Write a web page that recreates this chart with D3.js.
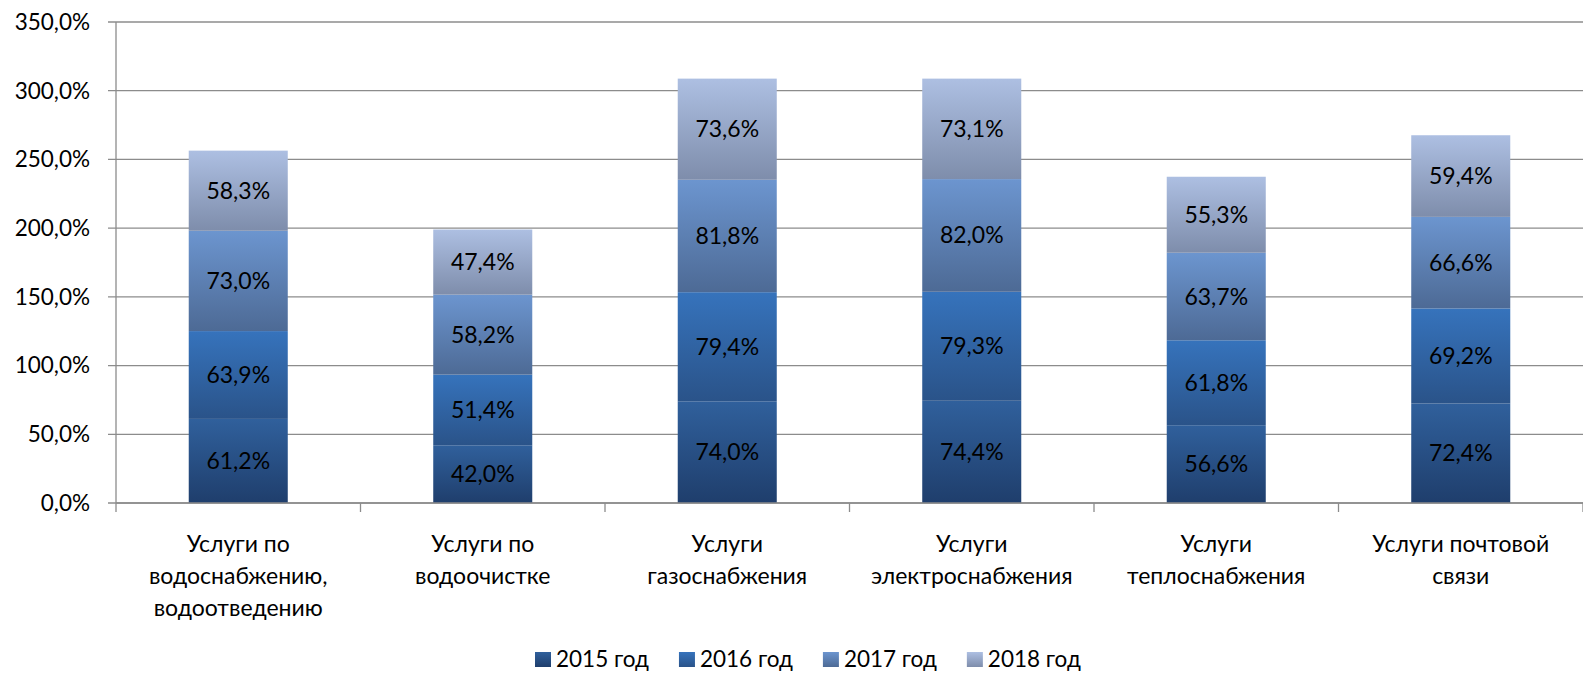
<!DOCTYPE html>
<html>
<head>
<meta charset="utf-8">
<script src="https://cdn.jsdelivr.net/npm/d3@7"></script>
<style>
  body { margin: 0; background: #fff; }
  text { font-family: Lato, "Open Sans", sans-serif; fill: #000; }
</style>
</head>
<body>
<div id="chart"></div>
<script>
// Chart data
var categories = [
    ["Услуги по", "водоснабжению,", "водоотведению"],
    ["Услуги по", "водоочистке"],
    ["Услуги", "газоснабжения"],
    ["Услуги", "электроснабжения"],
    ["Услуги", "теплоснабжения"],
    ["Услуги почтовой", "связи"]
];
var seriesNames = ["2015 год", "2016 год", "2017 год", "2018 год"];
var v2015 = [61.2, 42.0, 74.0, 74.4, 56.6, 72.4];
var v2016 = [63.9, 51.4, 79.4, 79.3, 61.8, 69.2];
var v2017 = [73.0, 58.2, 81.8, 82.0, 63.7, 66.6];
var v2018 = [58.3, 47.4, 73.6, 73.1, 55.3, 59.4];
var yTicks = [0, 50, 100, 150, 200, 250, 300, 350];

// gradient stops per series (top, bottom)
var colors = [
    ["#30609c", "#1f3e6c"],
    ["#3673bc", "#2a5389"],
    ["#6c95cf", "#4d6a95"],
    ["#adbfe2", "#7e8dab"]
];

var svgWidth = 1583;
var svgHeight = 675;
var margin = {top: 22, right: 0, bottom: 172, left: 116};
var chartWidth = svgWidth - margin.left - margin.right;
var chartHeight = svgHeight - margin.top - margin.bottom;

var svg = d3.select("#chart").append("svg")
    .attr("width", svgWidth)
    .attr("height", svgHeight);

var defs = svg.append("defs");
colors.forEach((c, i) => {
    var g = defs.append("linearGradient")
        .attr("id", "grad" + i)
        .attr("x1", 0).attr("y1", 0).attr("x2", 0).attr("y2", 1);
    g.append("stop").attr("offset", "0%").attr("stop-color", c[0]);
    g.append("stop").attr("offset", "100%").attr("stop-color", c[1]);
});

var chartGroup = svg.append("g")
    .attr("transform", `translate(${margin.left}, ${margin.top})`);

var x = d3.scaleBand()
    .domain(d3.range(categories.length))
    .range([0, chartWidth])
    .paddingInner(0.595)
    .paddingOuter(0.2975);
var xOuter = d3.scaleBand()
    .domain(d3.range(categories.length))
    .range([0, chartWidth]);

var y = d3.scaleLinear().domain([0, 350]).range([chartHeight, 0]);

// gridlines
chartGroup.append("g")
    .selectAll("line")
    .data(yTicks)
    .join("line")
    .attr("x1", -8).attr("x2", chartWidth)
    .attr("y1", d => y(d)).attr("y2", d => y(d))
    .attr("stroke", "#8c8c8c")
    .attr("stroke-width", 1.3);

var fmt = v => v.toFixed(1).replace(".", ",") + "%";

chartGroup.append("g")
    .selectAll("text")
    .data(yTicks)
    .join("text")
    .attr("x", -26)
    .attr("y", d => y(d))
    .attr("dy", "0.35em")
    .attr("text-anchor", "end")
    .style("font-size", "22.5px")
    .text(fmt);

// stacked data
var values = [v2015, v2016, v2017, v2018];
var rows = categories.map((c, i) => {
    var r = {i: i};
    seriesNames.forEach((s, k) => r[s] = values[k][i]);
    return r;
});
var stacked = d3.stack().keys(seriesNames)(rows);

var layers = chartGroup.selectAll("g.layer")
    .data(stacked)
    .join("g")
    .attr("class", "layer");

layers.selectAll("rect")
    .data((d, k) => d.map(p => ({p: p, k: k})))
    .join("rect")
    .attr("x", d => x(d.p.data.i))
    .attr("width", x.bandwidth())
    .attr("y", d => y(d.p[1]))
    .attr("height", d => y(d.p[0]) - y(d.p[1]))
    .attr("fill", d => `url(#grad${d.k})`);

layers.selectAll("text")
    .data(d => d)
    .join("text")
    .attr("x", p => x(p.data.i) + x.bandwidth() / 2)
    .attr("y", p => (y(p[0]) + y(p[1])) / 2)
    .attr("dy", "0.35em")
    .attr("text-anchor", "middle")
    .style("font-size", "23px")
    .text(p => fmt(p[1] - p[0]));

// axes lines
chartGroup.append("line")
    .attr("x1", 0).attr("x2", 0)
    .attr("y1", 0).attr("y2", chartHeight)
    .attr("stroke", "#8c8c8c").attr("stroke-width", 1.3);
chartGroup.append("line")
    .attr("x1", 0).attr("x2", chartWidth)
    .attr("y1", chartHeight).attr("y2", chartHeight)
    .attr("stroke", "#8c8c8c").attr("stroke-width", 1.3);
chartGroup.append("g")
    .selectAll("line")
    .data(d3.range(categories.length + 1))
    .join("line")
    .attr("x1", d => d * xOuter.step()).attr("x2", d => d * xOuter.step())
    .attr("y1", chartHeight).attr("y2", chartHeight + 9)
    .attr("stroke", "#8c8c8c").attr("stroke-width", 1.3);

// category labels
var catGroup = chartGroup.append("g");
categories.forEach((lines, i) => {
    var t = catGroup.append("text")
        .attr("text-anchor", "middle")
        .style("font-size", "23px")
        .attr("transform", `translate(${xOuter(i) + xOuter.bandwidth() / 2}, ${chartHeight + 49})`);
    lines.forEach((l, j) => {
        t.append("tspan").attr("x", 0).attr("y", j * 32).text(l);
    });
});

// legend
var legend = svg.append("g").attr("transform", "translate(535, 659)");
var lx = 0;
seriesNames.forEach((s, i) => {
    var item = legend.append("g").attr("transform", `translate(${lx}, 0)`);
    item.append("rect")
        .attr("x", 0).attr("y", -7)
        .attr("width", 16).attr("height", 15)
        .attr("fill", `url(#grad${i})`);
    var t = item.append("text")
        .attr("x", 21)
        .attr("dy", "0.35em")
        .style("font-size", "22.5px")
        .text(s);
    lx += 21 + t.node().getComputedTextLength() + 30;
});
</script>
</body>
</html>
